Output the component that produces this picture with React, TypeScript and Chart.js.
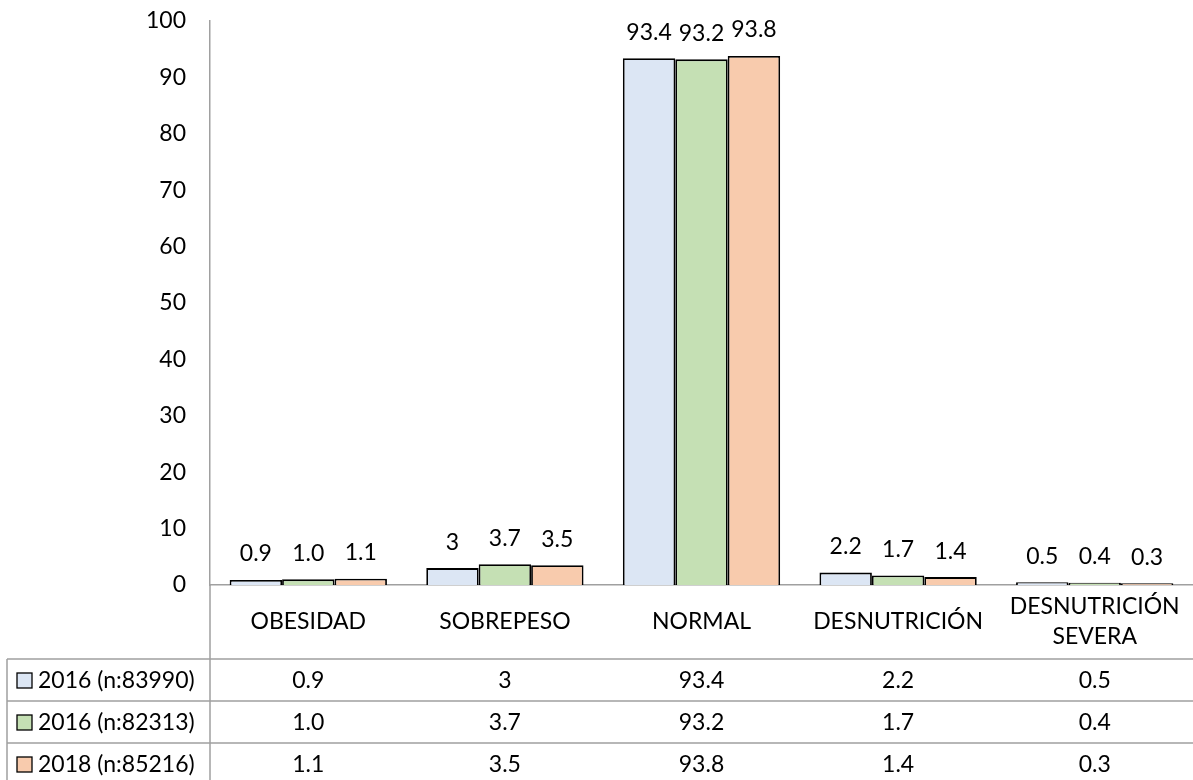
import { useEffect, useRef } from "react";
import { Chart, registerables } from "chart.js";

Chart.register(...registerables);

// ---- data ----
const categories: string[][] = [
  ["OBESIDAD"],
  ["SOBREPESO"],
  ["NORMAL"],
  ["DESNUTRICIÓN"],
  ["DESNUTRICIÓN", "SEVERA"],
];
const seriesNames = ["2016 (n:83990)", "2016 (n:82313)", "2018 (n:85216)"];
const series2016a = ["0.9", "3", "93.4", "2.2", "0.5"];
const series2016b = ["1.0", "3.7", "93.2", "1.7", "0.4"];
const series2018 = ["1.1", "3.5", "93.8", "1.4", "0.3"];
const yMin = 0;
const yMax = 100;
const yStep = 10;

const seriesTexts = [series2016a, series2016b, series2018];
const fills = ["#DCE6F4", "#C5E0B4", "#F8CBAD"];

const FONT = "Lato";
const FS = 23;
const GRAY = "#A0A0A0";

const overlayPlugin = {
  id: "overlay",
  afterDatasetsDraw(chart: any) {
    const ctx = chart.ctx as CanvasRenderingContext2D;
    const area = chart.chartArea;
    const xs = chart.scales.x;
    const H = chart.height;
    const W = chart.width;
    ctx.save();
    ctx.font = `${FS}px ${FONT}`;
    ctx.fillStyle = "#000";
    ctx.textAlign = "center";
    ctx.textBaseline = "middle";

    // data labels above bars
    chart.data.datasets.forEach((ds: any, i: number) => {
      const meta = chart.getDatasetMeta(i);
      meta.data.forEach((el: any, j: number) => {
        ctx.fillText(seriesTexts[i][j], el.x, el.y - 26);
      });
    });

    // category labels
    (chart.data.labels as string[][]).forEach((lab, j) => {
      const x = xs.getPixelForValue(j);
      const n = lab.length;
      lab.forEach((line, k) => {
        ctx.fillText(line, x, area.bottom + 37 - (n - 1) * 15 + k * 30);
      });
    });

    // table lines
    const tableTop = area.bottom + 74;
    const rowH = 42;
    ctx.strokeStyle = GRAY;
    ctx.lineWidth = 1.5;
    ctx.beginPath();
    ctx.moveTo(area.left, area.bottom);
    ctx.lineTo(area.left, H);
    ctx.moveTo(7, tableTop);
    ctx.lineTo(7, H);
    for (let r = 0; r < seriesNames.length; r++) {
      const y = tableTop + r * rowH;
      ctx.moveTo(7, y);
      ctx.lineTo(W, y);
    }
    ctx.stroke();

    // table rows
    seriesNames.forEach((name, r) => {
      const yc = tableTop + r * rowH + rowH / 2 + 1;
      ctx.fillStyle = fills[r];
      ctx.fillRect(17, yc - 8, 15, 15);
      ctx.strokeStyle = "#000";
      ctx.lineWidth = 1.3;
      ctx.strokeRect(17, yc - 8, 15, 15);
      ctx.fillStyle = "#000";
      ctx.textAlign = "left";
      ctx.fillText(name, 38, yc);
      ctx.textAlign = "center";
      seriesTexts[r].forEach((t, j) => {
        ctx.fillText(t, xs.getPixelForValue(j), yc);
      });
    });
    ctx.restore();
  },
};

export default function App() {
  const ref = useRef<HTMLCanvasElement>(null);
  useEffect(() => {
    const chart = new Chart(ref.current!, {
      type: "bar",
      data: {
        labels: categories as any,
        datasets: seriesNames.map((name, i) => ({
          label: name,
          data: seriesTexts[i].map(Number),
          backgroundColor: fills[i],
          borderColor: "#000",
          borderWidth: 1.8,
          categoryPercentage: 0.8,
          barPercentage: 1.0,
        })),
      },
      options: {
        animation: false,
        responsive: false,
        devicePixelRatio: 1,
        layout: { padding: { left: 0, right: 0, top: 21, bottom: 195 } },
        plugins: {
          legend: { display: false },
          tooltip: { enabled: false },
        },
        scales: {
          x: {
            ticks: { display: false },
            grid: { display: false, drawTicks: false, tickLength: 0 },
            border: { display: true, color: GRAY, width: 1.5 },
          },
          y: {
            min: yMin,
            max: yMax,
            ticks: {
              stepSize: yStep,
              color: "#000",
              padding: 24,
              font: { family: FONT, size: FS },
            },
            grid: { display: false, drawTicks: false, tickLength: 0 },
            border: { display: true, color: GRAY, width: 1.5 },
            afterFit: (s: any) => {
              s.width = 210;
              s.paddingTop = 0;
              s.paddingBottom = 0;
            },
          },
        },
      },
      plugins: [overlayPlugin],
    });
    return () => chart.destroy();
  }, []);
  return (
    <div style={{ position: "absolute", left: 0, top: 0, width: 1193, height: 780, background: "#fff" }}>
      <canvas ref={ref} width={1193} height={780} style={{ display: "block", width: 1193, height: 780 }} />
    </div>
  );
}
